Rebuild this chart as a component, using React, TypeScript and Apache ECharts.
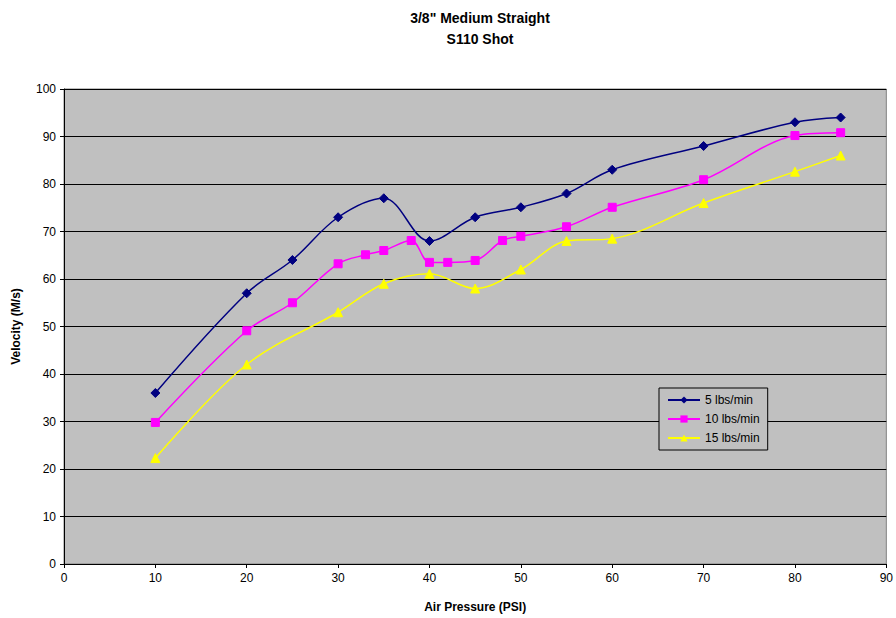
import React, { useEffect, useRef } from "react";
import * as echarts from "echarts";

const titleLines = ['3/8" Medium Straight', "S110 Shot"];
const xAxisName = "Air Pressure (PSI)";
const yAxisName = "Velocity (M/s)";

const s5Name = "5 lbs/min";
const s5X = [10, 20, 25, 30, 35, 40, 45, 50, 55, 60, 70, 80, 85];
const s5Y = [36, 57, 64, 73, 77, 68, 73, 75.1, 78, 83, 88, 93, 94];

const s10Name = "10 lbs/min";
const s10X = [10, 20, 25, 30, 33, 35, 38, 40, 42, 45, 48, 50, 55, 60, 70, 80, 85];
const s10Y = [29.8, 49.1, 55, 63.2, 65.1, 66, 68.1, 63.5, 63.5, 63.9, 68.1, 69, 71, 75.1, 80.9, 90.2, 90.8];

const s15Name = "15 lbs/min";
const s15X = [10, 20, 30, 35, 40, 45, 50, 55, 60, 70, 80, 85];
const s15Y = [22.3, 42, 53, 59, 61.1, 58, 62, 68, 68.5, 76, 82.6, 86];

const pairs = (xs: number[], ys: number[]) => xs.map((x, i) => [x, ys[i]]);

export default function App() {
  const ref = useRef<HTMLDivElement>(null);
  useEffect(() => {
    if (!ref.current) return;
    const chart = echarts.init(ref.current, null, { renderer: "svg" });
    const font = "Arial, 'Liberation Sans', sans-serif";
    const mk = (name: string, xs: number[], ys: number[], color: string, symbol: string, size: number) => ({
      name,
      type: "line",
      data: pairs(xs, ys),
      smooth: 0.35,
      symbol,
      symbolSize: size,
      lineStyle: { color, width: 1.5 },
      itemStyle: { color, borderColor: color },
    });
    chart.setOption({
      animation: false,
      backgroundColor: "#ffffff",
      title: {
        text: titleLines.join("\n"),
        left: 475,
        textAlign: "center",
        top: 2,
        textStyle: { fontFamily: font, fontSize: 14, fontWeight: "bold", color: "#000", lineHeight: 21 },
      },
      legend: {
        orient: "vertical",
        left: 659,
        top: 388,
        width: 107,
        itemWidth: 32,
        itemHeight: 9,
        itemGap: 7,
        padding: [6, 8, 6, 8],
        borderColor: "#000",
        borderWidth: 1,
        backgroundColor: "#C0C0C0",
        textStyle: { fontFamily: font, fontSize: 12, color: "#000" },
        data: [s5Name, s10Name, s15Name],
      },
      grid: { left: 64, right: 9, top: 89, bottom: 53, show: true, backgroundColor: "#C0C0C0", borderColor: "#808080", borderWidth: 1 },
      xAxis: {
        type: "value",
        min: 0,
        max: 90,
        interval: 10,
        name: xAxisName,
        nameLocation: "middle",
        nameGap: 37,
        nameTextStyle: { fontFamily: font, fontSize: 12, fontWeight: "bold", color: "#000" },
        axisLine: { lineStyle: { color: "#000", width: 1 } },
        axisTick: { show: true, inside: false, length: 4, lineStyle: { color: "#000" } },
        axisLabel: { fontFamily: font, fontSize: 12, color: "#000", margin: 8 },
        splitLine: { show: false },
      },
      yAxis: {
        type: "value",
        min: 0,
        max: 100,
        interval: 10,
        name: yAxisName,
        nameLocation: "middle",
        nameGap: 42,
        nameTextStyle: { fontFamily: font, fontSize: 12, fontWeight: "bold", color: "#000" },
        axisLine: { show: true, lineStyle: { color: "#000", width: 1 } },
        axisTick: { show: true, inside: false, length: 4, lineStyle: { color: "#000" } },
        axisLabel: { fontFamily: font, fontSize: 12, color: "#000", margin: 8 },
        splitLine: { show: true, lineStyle: { color: "#000", width: 1 } },
      },
      series: [
        mk(s5Name, s5X, s5Y, "#000080", "diamond", 9),
        mk(s10Name, s10X, s10Y, "#FF00FF", "rect", 8),
        mk(s15Name, s15X, s15Y, "#FFFF00", "triangle", 9),
      ],
    });
    return () => chart.dispose();
  }, []);
  return <div ref={ref} style={{ width: 896, height: 618, position: "absolute", left: 0, top: 0 }} />;
}
